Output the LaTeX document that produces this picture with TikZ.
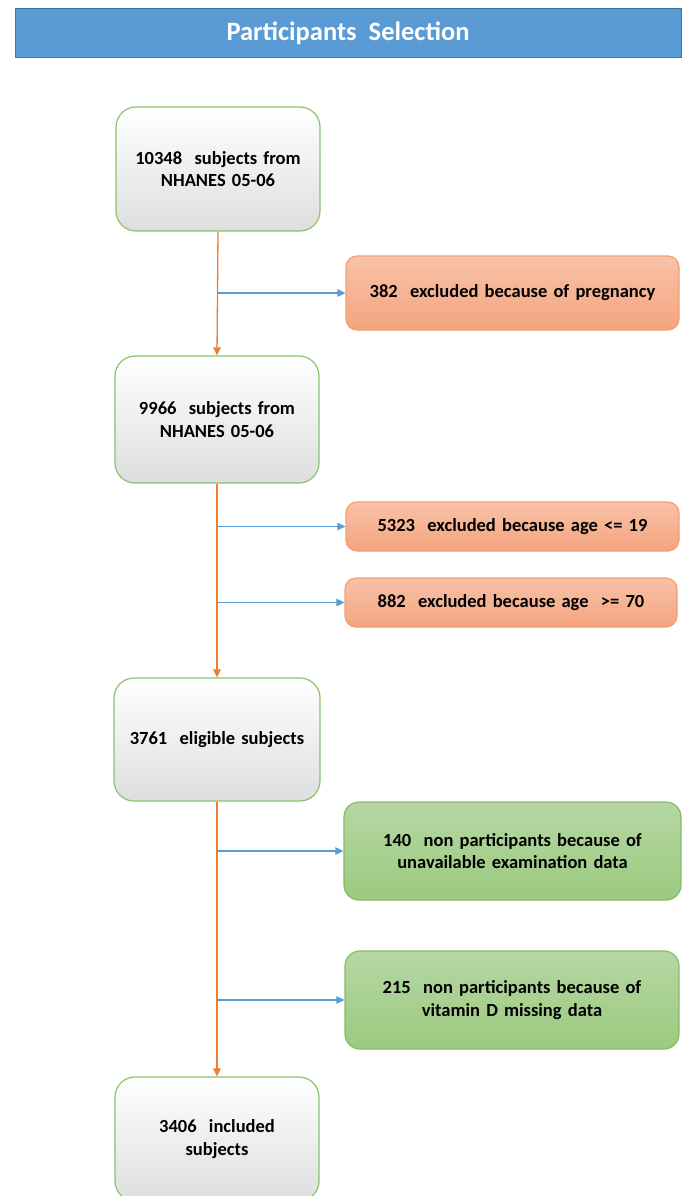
\documentclass[tikz,border=0pt]{standalone}
\usepackage{fontspec}
\setmainfont{Carlito}
\usepackage{xcolor}
\usepackage{tikz}
\usetikzlibrary{positioning, arrows, arrows.meta}

\definecolor{titleblue}{HTML}{5B9BD5}
\definecolor{titleedge}{HTML}{41719C}
\definecolor{boxgreen}{HTML}{8CC26A}
\definecolor{trunk}{HTML}{ED7D31}
\definecolor{branch}{HTML}{5B9BD5}
\definecolor{salmontop}{HTML}{F8C2A8}
\definecolor{salmonbot}{HTML}{F4A47E}
\definecolor{salmonedge}{HTML}{F4A06E}
\definecolor{greentop}{HTML}{B6D7A4}
\definecolor{greenbot}{HTML}{9BCA7F}
\definecolor{greenedge}{HTML}{86BC64}

\begin{document}
\begin{tikzpicture}[x=1pt, y=-1pt, >={Triangle[length=8pt,width=7.5pt]}, align=center,
  font=\fontsize{18.5}{22.5}\selectfont\bfseries,
  title/.style={rectangle, draw=titleedge, fill=titleblue, line width=1pt, text=white,
    minimum width=666pt, minimum height=49pt, font=\fontsize{26.5}{28}\selectfont\bfseries},
  subj/.style={rectangle, rounded corners=20pt, draw=boxgreen, line width=1.2pt,
    top color=white, bottom color=black!13, minimum width=204pt, text width=196pt, text=black},
  excl/.style={rectangle, rounded corners=11pt, draw=salmonedge, line width=1.2pt,
    top color=salmontop, bottom color=salmonbot, minimum width=333pt, text width=325pt, text=black},
  nonp/.style={rectangle, rounded corners=15pt, draw=greenedge, line width=1.2pt,
    top color=greentop, bottom color=greenbot, minimum width=336pt, minimum height=98pt,
    text width=325pt, text=black},
  flow/.style={->, trunk, line width=1.3pt},
  side/.style={->, branch, line width=1.1pt}]
\useasboundingbox (0,0) rectangle (686,1196);
\clip (0,0) rectangle (686,1196);

\node[title] at (348,33.5) (head) {Participants\ \ Selection};

\node[subj, minimum height=124pt] at (218,169) (s1) {10348\ \ subjects from\\NHANES 05-06};
\node[subj, minimum height=127pt] at (217,419.5) (s2) {9966\ \ subjects from\\NHANES 05-06};
\node[subj, minimum height=123pt, minimum width=206pt] at (217,739.5) (s3) {3761\ \ eligible subjects};
\node[subj, minimum height=124pt] at (217,1139) (s4) {3406\ \ included\\subjects};

\node[excl, minimum height=74pt] at (512.5,293) (e1) {382\ \ excluded because of pregnancy};
\node[excl, minimum height=49pt] at (512.5,526.5) (e2) {5323\ \ excluded because age <= 19};
\node[excl, minimum height=49pt, minimum width=332pt] at (511,602.5) (e3) {882\ \ excluded because age\ \ >= 70};
\node[nonp, minimum width=337pt] at (512.5,851) (g1) {140\ \ non participants because of\\unavailable examination data};
\node[nonp, minimum width=334pt] at (512,1000) (g2) {215\ \ non participants because of\\vitamin D missing data};

% main flow
\draw[flow] (s1.south) -- (s2.north);
\draw[flow] (s2.south) -- (s3.north);
\draw[flow] (s3.south) -- (s4.north);

% exclusions
\draw[side] (s1.south |- e1.west) -- (e1.west);
\draw[side] (s2.south |- e2.west) -- (e2.west);
\draw[side] (s2.south |- e3.west) -- (e3.west);
\draw[side] (s3.south |- g1.west) -- (g1.west);
\draw[side] (s3.south |- g2.west) -- (g2.west);
\end{tikzpicture}
\end{document}
